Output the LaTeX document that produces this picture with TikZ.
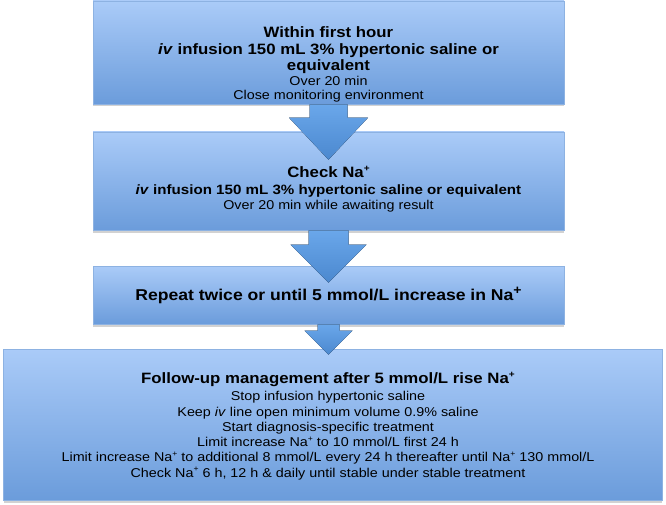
\documentclass[tikz,border=0pt]{standalone}
\usepackage{fontspec}
\setmainfont{Liberation Sans}[FakeStretch=1.12]
\usetikzlibrary{calc,shadows}
\definecolor{boxtop}{HTML}{AACBF8}
\definecolor{boxbot}{HTML}{6B9CDB}
\definecolor{boxline}{HTML}{8DB2E2}
\definecolor{arrtop}{HTML}{6AA7EA}
\definecolor{arrbot}{HTML}{4B88CF}
\newcommand{\hd}{\fontsize{15}{15.3}\selectfont\bfseries}
\newcommand{\tx}{\fontsize{12.8}{15.3}\selectfont\mdseries}
\newcommand{\na}{Na\raisebox{.42em}{\scalebox{.6}{+}}}
% fat arrow: from box, to box, shaft half width, head half width, head length, tip below top of 'to'
\newcommand{\fatarr}[6]{%
\coordinate (#1#2) at (#1.south |- #2.north);
\fill[fatarrow] ($(#1.south)+(-#3,0)$) -- ($(#1#2)+(-#3,#6-#5)$) -- ($(#1#2)+(-#4,#6-#5)$)
  -- ($(#1#2)+(0,#6)$) -- ($(#1#2)+(#4,#6-#5)$) -- ($(#1#2)+(#3,#6-#5)$) -- ($(#1.south)+(#3,0)$) -- cycle;}

\begin{document}
\begin{tikzpicture}[x=1pt,y=-1pt,
  box/.style={draw=boxline, line width=.6pt, top color=boxtop, bottom color=boxbot,
    minimum width=471pt, inner sep=0pt,
    drop shadow={shadow xshift=0pt, shadow yshift=-2.5pt, opacity=.35}},
  txt/.style={align=center, inner sep=0pt, text=black, font=\tx},
  fatarrow/.style={top color=arrtop, bottom color=arrbot, draw=none}]
\fill[white] (0,0) rectangle (666,505);
\useasboundingbox (0,0) rectangle (666,505);

\node[box, minimum height=103pt] (b1) at (328.5, 52.5) {};
\node[box, minimum height=98pt] (b2) at (328.5, 181) {};
\node[box, minimum height=58pt] (b3) at (328.5, 295) {};
\node[box, minimum height=151pt, minimum width=658.5pt] (b4) at (332.75, 424.5) {};

\fatarr{b1}{b2}{19}{39.5}{42}{28}
\fatarr{b2}{b3}{20}{38}{38}{17}
\fatarr{b3}{b4}{11}{24}{24}{6}

\node[txt] (t1) at (328.5, 64.5) {\hd Within first hour\\[2.2pt]
  \hd\textit{iv} infusion 150 mL 3\% hypertonic saline or\\
  \hd equivalent\\
  \tx Over 20 min\\[-.8pt]
  \tx Close monitoring environment};
\node[txt] (t2) at (328.5, 189) {\hd Check \na\\[1.7pt]
  \fontsize{13.5}{15}\selectfont\bfseries\textit{iv} infusion 150 mL 3\% hypertonic saline or equivalent\\
  \tx Over 20 min while awaiting result};
\node[txt] (t3) at (328.5, 295.5) {\fontsize{15.7}{18}\selectfont\bfseries
  Repeat twice or until 5 mmol/L increase in Na\raisebox{.38em}{\scalebox{.8}{+}}};
\node[txt] (t4) at (328, 426) {\hd Follow-up management after 5 mmol/L rise \na\\[1.7pt]
  \tx Stop infusion hypertonic saline\\
  \tx Keep \textit{iv} line open minimum volume 0.9\% saline\\
  \tx Start diagnosis-specific treatment\\
  \tx Limit increase \na{} to 10 mmol/L first 24 h\\
  \tx Limit increase \na{} to additional 8 mmol/L every 24 h thereafter until \na{} 130 mmol/L\\
  \tx Check \na{} 6 h, 12 h \& daily until stable under stable treatment};
\end{tikzpicture}
\end{document}
